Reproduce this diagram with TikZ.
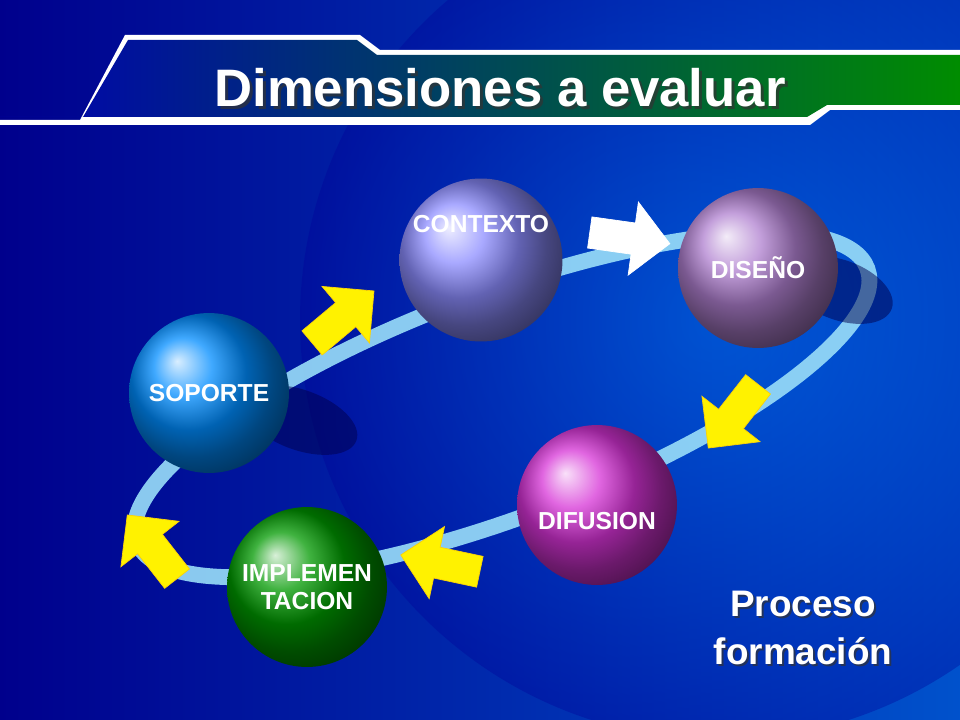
\documentclass[tikz,border=0pt]{standalone}
\usepackage{fontspec}
\setmainfont{Liberation Sans}
\usetikzlibrary{shapes.arrows,shadows}

\tikzset{
  esfera/.style={circle, minimum size=91pt, inner sep=0pt, align=center,
    font=\bfseries\fontsize{14}{16}\selectfont, text=white},
  flecha/.style={single arrow, fill=yellow, draw=yellow!70!orange, minimum height=46pt,
    minimum width=42pt, single arrow head extend=7pt, inner sep=5pt},
  sombra/.style={text=black!80, opacity=0.7}
}

\begin{document}
\begin{tikzpicture}[x=0.2mm, y=-0.2mm]
  \useasboundingbox (0,0) rectangle (960,720);
  % fondo
  \shade[left color=blue!55!black, right color=blue!60!cyan!80!black] (0,0) rectangle (960,720);
  \shade[inner color=cyan!50!blue, outer color=blue!60!black, opacity=0.35] (720,320) circle (420);
  % franja del titulo
  \fill[white] (0,125) -- (0,120) -- (80,120) -- (125,35) -- (360,35) -- (380,50) -- (960,50)
    -- (960,110) -- (830,110) -- (810,125) -- cycle;
  \shade[left color=blue!70!black, middle color=cyan!60!blue, right color=green!55!black]
    (0,117) -- (83,117) -- (128,40) -- (357,40) -- (377,55) -- (960,55)
    -- (960,105) -- (827,105) -- (807,117) -- (0,117) -- cycle;
  \node[sombra, font=\bfseries\fontsize{30}{32}\selectfont] at (503,91) {Dimensiones a evaluar};
  \node[text=white, font=\bfseries\fontsize{30}{32}\selectfont] (titulo) at (500,88) {Dimensiones a evaluar};

  % anillo
  \draw[line width=9pt, cyan!40!white, opacity=0.9] (502,405) ellipse [x radius=390, y radius=112, rotate=20.5];
  % sombras de las esferas
  \fill[blue!30!black, opacity=0.5] (300,420) ellipse [x radius=60, y radius=30, rotate=-20];
  \fill[blue!30!black, opacity=0.5] (840,290) ellipse [x radius=55, y radius=30, rotate=-20];

  % esferas
  \node[esfera, ball color=blue!45!cyan] (soporte) at (209,393) {SOPORTE};
  \node[esfera, ball color=blue!45!white] (contexto) at (481,260) {CONTEXTO\\[25pt]};
  \node[esfera, ball color=blue!25!violet!50!white] (diseno) at (758,268) {DISEÑO};
  \node[esfera, ball color=magenta!60!violet!80!white] (difusion) at (597,505) {\\[12pt]DIFUSION};
  \node[esfera, ball color=green!60!black] (implem) at (307,587) {IMPLEMEN\\TACION};

  % flechas
  \node[flecha, fill=white, draw=white, rotate=-8] (f1) at (622,237) {};
  \node[flecha, rotate=40] (f2) at (337,322) {};
  \node[flecha, rotate=-128] (f3) at (738,410) {};
  \node[flecha, rotate=168] (f4) at (448,565) {};
  \node[flecha, rotate=128] (f5) at (157,553) {};

  % leyenda
  \node[sombra, align=center, font=\bfseries\fontsize{21}{27}\selectfont] at (805,630) {Proceso\\formación};
  \node[text=white, align=center, font=\bfseries\fontsize{21}{27}\selectfont] (proceso) at (803,628) {Proceso\\formación};
\end{tikzpicture}
\end{document}
